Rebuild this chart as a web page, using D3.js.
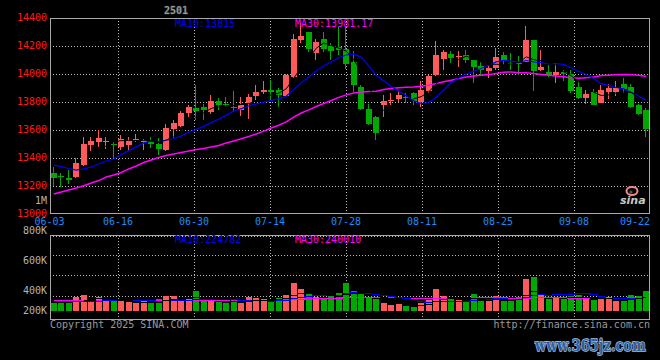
<!DOCTYPE html>
<html><head><meta charset="utf-8">
<script src="https://cdn.jsdelivr.net/npm/d3@7"></script>
<style>html,body{margin:0;padding:0;background:#000;}svg{display:block;}</style>
</head><body>
<svg id="c" width="660" height="360"></svg>
<script>
const title = "2501";
const dates = ["06-03","06-04","06-05","06-06","06-09","06-10","06-11","06-12","06-13","06-16","06-17","06-18","06-19","06-20","06-23","06-24","06-25","06-26","06-27","06-30",
"07-01","07-02","07-03","07-04","07-07","07-08","07-09","07-10","07-11","07-14","07-15","07-16","07-17","07-18","07-21","07-22","07-23","07-24","07-25","07-28","07-29","07-30","07-31",
"08-01","08-04","08-05","08-06","08-07","08-08","08-11","08-12","08-13","08-14","08-15","08-18","08-19","08-20","08-21","08-22","08-25","08-26","08-27","08-28","08-29",
"09-01","09-02","09-03","09-04","09-05","09-08","09-09","09-10","09-11","09-12","09-15","09-16","09-17","09-18","09-19","09-22"];
const open  = [13297,13277,13261,13269,13352,13497,13517,13520,13505,13483,13497,13536,13519,13516,13502,13459,13609,13631,13724,13759,
13766,13731,13809,13790,13768,13745,13793,13845,13874,13888,13888,13845,13981,14245,14302,14152,14252,14202,14195,14181,
14088,13909,13752,13695,13781,13814,13824,13840,13866,13802,13881,13995,14109,14145,14126,14138,14102,14059,14026,14045,
14138,14083,14083,14088,14245,14031,14016,13995,14016,14002,13912,13831,13874,13795,13874,13874,13931,13909,13781,13745];
const high  = [13340,13293,13316,13400,13552,13552,13602,13552,13519,13566,13550,13574,13538,13550,13543,13645,13673,13738,13781,13924,
13788,13852,13831,13838,13881,13838,13859,13924,13952,13959,13902,14002,14288,14366,14302,14252,14302,14224,14341,14345,
14166,13924,13788,13702,13852,13866,13888,13866,13874,13952,13995,14238,14174,14166,14166,14174,14102,14088,14067,14188,
14159,14152,14131,14345,14245,14174,14067,14081,14031,14031,13952,13888,13895,13924,13931,13952,13974,13931,13788,13759];
const low   = [13204,13197,13216,13257,13345,13454,13483,13469,13400,13459,13454,13516,13459,13471,13424,13452,13547,13626,13695,13673,
13673,13716,13745,13766,13731,13702,13681,13816,13859,13816,13766,13840,13974,14224,14159,14102,14159,14102,14138,14038,
13874,13745,13638,13531,13695,13781,13802,13795,13781,13766,13869,13988,14031,14081,14054,14083,13940,13995,13976,14031,
14067,14031,13995,14088,13881,14024,13983,13938,13952,13866,13824,13788,13781,13793,13824,13845,13866,13759,13709,13552];
const close = [13261,13270,13247,13366,13502,13523,13545,13524,13500,13538,13531,13540,13531,13500,13466,13616,13652,13724,13766,13738,
13745,13809,13781,13786,13764,13784,13838,13874,13888,13874,13852,13995,14252,14274,14179,14231,14181,14166,14177,14074,
13924,13752,13645,13581,13809,13818,13852,13836,13809,13888,13988,14138,14159,14116,14130,14102,14054,14031,14045,14124,
14095,14079,14079,14245,14024,14052,13995,14016,14002,13881,13833,13859,13781,13888,13902,13902,13895,13766,13716,13609];
const volume = [137000,137000,137000,232000,265000,177000,232000,177000,177000,160000,149000,137000,160000,137000,194000,248000,248000,177000,194000,331000,
177000,177000,149000,137000,149000,137000,232000,215000,199000,149000,215000,265000,463000,364000,281000,232000,194000,248000,293000,458000,
326000,276000,232000,194000,127000,94000,111000,78000,66000,137000,182000,359000,248000,194000,177000,149000,276000,160000,160000,243000,
160000,194000,227000,525000,558000,276000,194000,227000,194000,243000,260000,227000,177000,194000,227000,170000,160000,260000,248000,326000];
// moving-average values before a full window exists
const ma10Head = [13352,13341,13327,13316,13324,13338,13359,13381,13395];
const ma30Head = [13145,13159,13174,13188,13204,13224,13241,13266,13281,13299,13324,13345,13370,13388,13406,13420,13431,13442,13452,13463,13470,13481,13491,13509,13524,13540,13556,13574,13594];
const volMa10Head = [165000,165000,166000,167000,168000,170000,172000,175000,178000];
const volMa30Head = [176000,176000,176000,177000,177000,177000,177000,178000,178000,178000,178000,179000,179000,179000,180000,180000,180000,181000,181000,181000,182000,182000,182000,183000,183000,183000,183000,184000,184000];
const priceTicks = [14400,14200,14000,13800,13600,13400,13200,13000];
const volTickValues = [1000000,800000,600000,400000,200000];
const volTickLabels = ["1M","800K","600K","400K","200K"];
const xTickDates = ["06-03","06-16","06-30","07-14","07-28","08-11","08-25","09-08","09-22"];
const priceMaLabels = ["MA10:13815","MA30:13981.17"];
const volMaLabels = ["MA10:224782","MA30:240010"];

const RED="#ff5a5a", GREEN="#00a800", GRID="#b8b8b8", FRAME="#a8a8a8";
const FONT="DejaVu Sans Mono";
const svg = d3.select("#c");
svg.append("rect").attr("width",660).attr("height",360).attr("fill","#000");

const L=50, R=650, T=18.3, B=214.3, VT=234.7, VB=318.5, VBASE=311;
const x = d3.scaleBand().domain(dates).range([L,R]).paddingInner(0.2).paddingOuter(0.1);
const xc = d => x(d) + x.bandwidth()/2;
const xg = d3.scaleLinear().domain([0,dates.length-1]).range([49.6,650]);
const y = d3.scaleLinear().domain([13000,14400]).range([B,T]);
const yv = d3.scaleLinear().domain([0,500000]).range([VBASE, VBASE-500000/16550]);
const yvLab = d3.scaleLinear().domain([800000,400000]).range([234,294]);
const yvGrid = d3.scaleLinear().domain([0,4]).range([VT,316]);

function sma(arr,n,head){ return arr.map((_,i)=> i>=n-1 ? d3.mean(arr.slice(i-n+1,i+1)) : (head ? head[i] : null)); }

const g = svg.append("g").attr("shape-rendering","crispEdges");
g.selectAll(".hg").data(priceTicks.slice(1,-1)).enter().append("line")
 .attr("x1",L).attr("x2",R).attr("y1",d=>Math.round(y(d))+0.5).attr("y2",d=>Math.round(y(d))+0.5)
 .attr("stroke",GRID).attr("stroke-dasharray","1,2");
const vIdx = xTickDates.slice(1,-1).map(d=>dates.indexOf(d));
g.selectAll(".vg").data(vIdx).enter().append("line")
 .attr("x1",d=>Math.round(xg(d))+0.5).attr("x2",d=>Math.round(xg(d))+0.5).attr("y1",T).attr("y2",B)
 .attr("stroke",GRID).attr("stroke-dasharray","1,2");
g.selectAll(".vhg").data([1,2,3]).enter().append("line")
 .attr("x1",L).attr("x2",R).attr("y1",d=>Math.round(yvGrid(d))+0.5).attr("y2",d=>Math.round(yvGrid(d))+0.5)
 .attr("stroke",GRID).attr("stroke-dasharray","1,2");
g.append("line").attr("x1",L).attr("x2",R).attr("y1",VT+1.5).attr("y2",VT+1.5).attr("stroke",GRID).attr("stroke-dasharray","1,2");
g.selectAll(".vvg").data(vIdx).enter().append("line")
 .attr("x1",d=>Math.round(xg(d))+0.5).attr("x2",d=>Math.round(xg(d))+0.5).attr("y1",VT).attr("y2",VB)
 .attr("stroke",GRID).attr("stroke-dasharray","1,2");

const idx = d3.range(dates.length);
const cg = svg.append("g").attr("shape-rendering","crispEdges");
idx.forEach(i=>{
  const up = close[i] >= open[i];
  const col = up ? RED : GREEN;
  const bx = Math.round(x(dates[i]));
  const bw = Math.round(x.bandwidth());
  cg.append("rect").attr("x",bx+2).attr("width",1)
    .attr("y",Math.round(y(high[i]))).attr("height",Math.max(1,Math.round(y(low[i]))-Math.round(y(high[i]))))
    .attr("fill",col);
  const yt = Math.round(y(Math.max(open[i],close[i]))), yb = Math.round(y(Math.min(open[i],close[i])));
  cg.append("rect").attr("x",bx).attr("width",bw).attr("y",yt).attr("height",Math.max(1,yb-yt)).attr("fill",col);
});

svg.append("clipPath").attr("id","cp").append("rect").attr("x",L).attr("y",T).attr("width",R-L).attr("height",B-T);
const ma5 = sma(close,5,null), ma10 = sma(close,10,ma10Head), ma30 = sma(close,30,ma30Head);
const lineP = d3.line().defined(d=>d[1]!=null).x(d=>xc(dates[d[0]])).y(d=>y(d[1]));
const lg = svg.append("g").attr("clip-path","url(#cp)");
lg.append("path").attr("d",lineP(ma30.map((v,i)=>[i,v]))).attr("fill","none").attr("stroke","#ff00ff").attr("stroke-width",1.5);
lg.append("path").attr("d",lineP(ma10.map((v,i)=>[i,v]))).attr("fill","none").attr("stroke","#0000ff").attr("stroke-width",1.2);
lg.append("path").attr("d",lineP(ma5.map((v,i)=>[i,v]))).attr("fill","none").attr("stroke","#000").attr("stroke-width",1);

const vg = svg.append("g").attr("shape-rendering","crispEdges");
idx.forEach(i=>{
  const up = close[i] >= open[i];
  const bx = Math.round(x(dates[i]));
  const yt = Math.round(yv(volume[i]));
  vg.append("rect").attr("x",bx).attr("width",Math.round(x.bandwidth())).attr("y",yt).attr("height",VBASE-yt)
    .attr("fill", up ? RED : GREEN);
});
const vma5 = sma(volume,5,null), vma10 = sma(volume,10,volMa10Head), vma30 = sma(volume,30,volMa30Head);
const lineV = d3.line().defined(d=>d[1]!=null).x(d=>xc(dates[d[0]])).y(d=>Math.round(yv(d[1]))+0.5).curve(d3.curveStep);
const vlg = svg.append("g").attr("shape-rendering","crispEdges");
vlg.append("path").attr("d",lineV(vma30.map((v,i)=>[i,v]))).attr("fill","none").attr("stroke","#ff00ff").attr("stroke-width",1.5);
vlg.append("path").attr("d",lineV(vma10.map((v,i)=>[i,v]))).attr("fill","none").attr("stroke","#0000ff").attr("stroke-width",1.2);
vlg.append("path").attr("d",lineV(vma5.map((v,i)=>[i,v]))).attr("fill","none").attr("stroke","#000").attr("stroke-width",1);

const fg = svg.append("g").attr("shape-rendering","crispEdges").attr("fill","none").attr("stroke",FRAME);
fg.append("rect").attr("x",L+0.5).attr("y",Math.round(T)+0.5).attr("width",R-L-1).attr("height",Math.round(B)-Math.round(T)-1);
fg.append("rect").attr("x",L+0.5).attr("y",Math.round(VT)+0.5).attr("width",R-L-1).attr("height",Math.round(VB)-Math.round(VT));

const txt = (s,xx,yy,col,anchor)=> svg.append("text").text(s).attr("x",xx).attr("y",yy).attr("fill",col)
  .attr("font-family",FONT).attr("font-size","10px").attr("text-anchor",anchor||"start");
priceTicks.forEach(p=>txt(p, 47, y(p)+2.5, "#ff1a1a","end"));
volTickValues.forEach((v,k)=>txt(volTickLabels[k], 47, Math.min(314, yvLab(v)), "#b4b4b4","end"));
xTickDates.forEach(d=>{
  const i = dates.indexOf(d);
  let cx = xg(i);
  const w = 30;
  if (cx + w/2 > R) cx = R - w/2;
  txt(d, cx, 225, "#1a8cff","middle");
});
txt(priceMaLabels[0], 175, 27, "#0000ff");
txt(priceMaLabels[1], 295, 27, "#ff00ff");
txt(volMaLabels[0], 175, 242.5, "#0000ff");
txt(volMaLabels[1], 295, 242.5, "#ff00ff");
txt("Copyright 2025 SINA.COM", 50, 327.5, "#9a9a9a");
txt("http://finance.sina.com.cn", 650, 327.5, "#9a9a9a","end");
svg.append("text").text(title).attr("x",176).attr("y",13.5).attr("text-anchor","middle")
  .attr("font-family",FONT).attr("font-size","10px").attr("font-weight","bold")
  .attr("fill","#b8b8b8").attr("stroke","#555").attr("stroke-width",0.5);

const lgo = svg.append("g");
lgo.append("ellipse").attr("cx",632).attr("cy",191).attr("rx",5.5).attr("ry",4).attr("fill","none").attr("stroke","#f08a8a").attr("stroke-width",2);
lgo.append("circle").attr("cx",631).attr("cy",192).attr("r",1.6).attr("fill","#555");
lgo.append("text").text("sina").attr("x",620).attr("y",204).attr("font-family","DejaVu Sans").attr("font-weight","bold")
  .attr("font-style","italic").attr("font-size","11px").attr("fill","#c8c8c8");

// watermark: natural width ~116px at 13px, stretched vertically
svg.append("g").attr("transform","translate(535,351) scale(1,1.3)")
  .append("text").text("www.365jz.com").attr("x",0).attr("y",0).attr("font-family","DejaVu Serif").attr("font-weight","bold")
  .attr("font-size","13px").attr("fill","#2f5f9f").attr("stroke","#a9bfdc").attr("stroke-width",1.2).attr("paint-order","stroke");
</script>
</body></html>
